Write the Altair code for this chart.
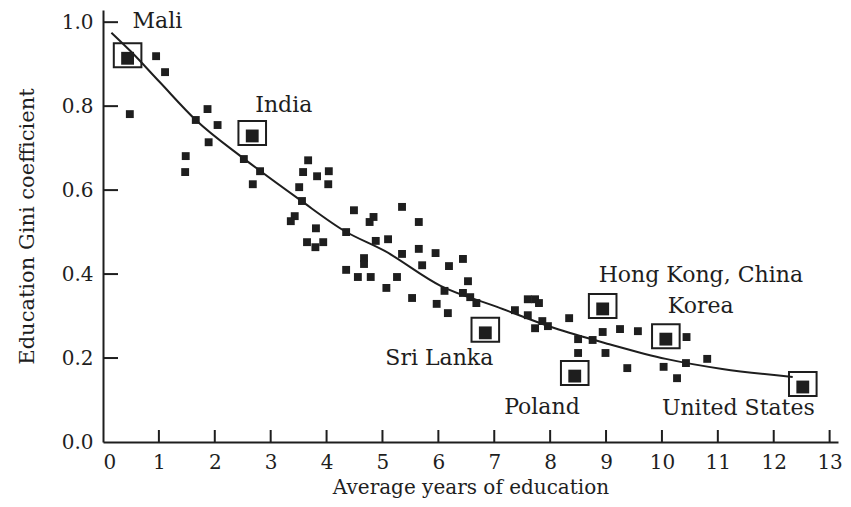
import altair as alt
import pandas as pd

# Regular countries (average years of education, education Gini)
pts_x = [0.95, 1.11, 0.48, 1.87, 1.66, 2.05, 1.89, 1.48, 1.47, 2.52, 2.81, 2.68,
         3.67, 3.58, 3.83, 4.04, 4.03, 3.51, 3.56, 3.43, 3.36, 3.81, 3.65, 3.80, 3.94,
         4.49, 4.35, 4.77, 4.84, 5.35, 5.65, 4.88, 5.10, 4.67, 4.67, 4.35, 4.56, 4.79,
         5.07, 5.26, 5.35, 5.65, 5.71, 5.95, 5.53, 6.11,
         6.19, 6.44, 6.53, 6.44, 6.57, 6.68, 5.97, 6.17,
         7.37, 7.60, 7.73, 7.80, 7.60, 7.86, 7.73, 7.96, 8.34, 8.50, 8.50, 8.76,
         8.94, 9.25, 9.57, 10.44, 8.99, 9.38, 10.03, 10.27, 10.43, 10.81]
pts_y = [0.919, 0.881, 0.781, 0.793, 0.767, 0.755, 0.714, 0.681, 0.643, 0.674, 0.645, 0.614,
         0.671, 0.643, 0.633, 0.645, 0.614, 0.607, 0.574, 0.538, 0.526, 0.509, 0.476, 0.464, 0.476,
         0.552, 0.500, 0.524, 0.536, 0.560, 0.524, 0.479, 0.483, 0.438, 0.424, 0.410, 0.393, 0.393,
         0.367, 0.393, 0.448, 0.460, 0.421, 0.450, 0.343, 0.360,
         0.419, 0.436, 0.383, 0.355, 0.345, 0.331, 0.329, 0.307,
         0.314, 0.340, 0.340, 0.331, 0.302, 0.288, 0.271, 0.276, 0.295, 0.245, 0.212, 0.243,
         0.262, 0.269, 0.264, 0.250, 0.212, 0.176, 0.179, 0.152, 0.188, 0.198]

# Highlighted countries
hl_names = ["Mali", "India", "Sri Lanka", "Poland", "Hong Kong, China", "Korea", "United States"]
hl_x = [0.44, 2.67, 6.84, 8.44, 8.94, 10.07, 12.52]
hl_y = [0.914, 0.729, 0.260, 0.157, 0.317, 0.245, 0.131]

# Fitted curve
curve_x = [0.15, 0.5, 1.01, 1.66, 2.52, 3.53, 4.33, 5.04, 6.04, 7.05, 8.06, 9.06, 10.07, 11.08, 12.34]
curve_y = [0.975, 0.930, 0.858, 0.767, 0.675, 0.576, 0.502, 0.455, 0.372, 0.322, 0.272, 0.233, 0.198, 0.174, 0.155]

x_ticks = list(range(0, 14))
y_ticks = [0.0, 0.2, 0.4, 0.6, 0.8, 1.0]

FONT = "DejaVu Serif"
INK = "#1e1e1e"
W, H = 735, 432

pts = pd.DataFrame({"x": pts_x, "y": pts_y})
hl = pd.DataFrame({"x": hl_x, "y": hl_y, "name": hl_names})
curve = pd.DataFrame({"x": curve_x, "y": curve_y})
# tick marks sit on the axes: x ticks on y = 0, y ticks on x = 0
xt = pd.DataFrame({"x": x_ticks[1:], "y": [y_ticks[0]] * (len(x_ticks) - 1)})
yt = pd.DataFrame({"y": y_ticks[1:], "x": [x_ticks[0]] * (len(y_ticks) - 1)})

xs = alt.Scale(domain=[0, 13.15], nice=False, zero=False)
ys = alt.Scale(domain=[0, 1.029], nice=False, zero=False)

x_axis = alt.Axis(values=x_ticks, format="d", title="Average years of education",
                  ticks=False, grid=False, labelPadding=10, titlePadding=5,
                  labelFontSize=20, titleFontSize=20, domainColor=INK, domainWidth=2,
                  labelColor=INK, titleColor=INK, labelFont=FONT, titleFont=FONT,
                  titleFontWeight="normal")
y_axis = alt.Axis(values=y_ticks, format=".1f", title="Education Gini coefficient",
                  ticks=False, grid=False, labelPadding=10, titlePadding=24,
                  labelFontSize=20, titleFontSize=21, domainColor=INK, domainWidth=2,
                  labelColor=INK, titleColor=INK, labelFont=FONT, titleFont=FONT,
                  titleFontWeight="normal")

X = alt.X("x:Q", scale=xs, axis=x_axis)
Y = alt.Y("y:Q", scale=ys, axis=y_axis)

line = alt.Chart(curve).mark_line(color=INK, strokeWidth=2, interpolate="monotone").encode(x=X, y=Y)

dots = alt.Chart(pts).mark_square(color=INK, size=62, opacity=1).encode(x=X, y=Y)

hl_dots = alt.Chart(hl).mark_square(color=INK, size=165, opacity=1).encode(x=X, y=Y)

boxes = alt.Chart(hl).mark_point(
    shape="M -1.15 -1 L 1.15 -1 L 1.15 1 L -1.15 1 Z",
    size=576, filled=False, stroke=INK, strokeWidth=2, opacity=1, yOffset=-3
).encode(x=X, y=Y)

# inward tick marks drawn as stroked symbol paths anchored on the axes
xtick_marks = alt.Chart(xt).mark_point(
    shape="M 0 0 L 0 -2", size=144, filled=False, stroke=INK, strokeWidth=2, opacity=1
).encode(x=X, y=Y)
ytick_marks = alt.Chart(yt).mark_point(
    shape="M 0 0 L 2.5 0", size=144, filled=False, stroke=INK, strokeWidth=2, opacity=1
).encode(x=X, y=Y)

# label placement: (align, dx, dy) relative to the highlighted point
label_style = {
    "Mali": ("left", 5, -37),
    "India": ("left", 3, -31),
    "Sri Lanka": ("right", 8, 25),
    "Poland": ("right", 5, 31),
    "Hong Kong, China": ("left", -4, -34),
    "Korea": ("left", 2, -33),
    "United States": ("right", 12, 21),
}
labels = []
for name, (al, dx, dy) in label_style.items():
    labels.append(
        alt.Chart(hl[hl["name"] == name]).mark_text(
            align=al, baseline="middle", dx=dx, dy=dy, font=FONT, fontSize=22, color=INK
        ).encode(x=X, y=Y, text="name:N")
    )

chart = alt.LayerChart(
    layer=[line, dots, hl_dots, boxes, xtick_marks, ytick_marks, *labels],
    width=W, height=H,
    autosize=alt.AutoSizeParams(type="none"),
    padding={"left": 95, "top": 2, "right": 5, "bottom": 57},
    view=alt.ViewBackground(stroke=None),
)

chart.save("out.html", embed_options={"renderer": "svg", "actions": False})
